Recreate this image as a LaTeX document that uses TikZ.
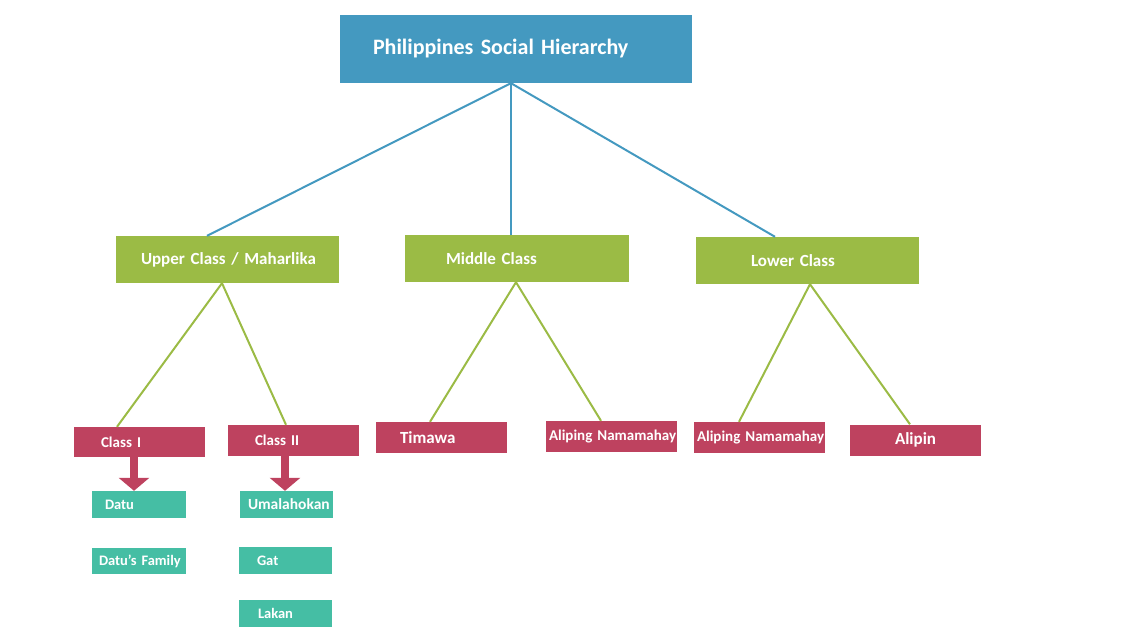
\documentclass[tikz,border=0pt]{standalone}
\usepackage{fontspec}
\setmainfont{Carlito}
\usetikzlibrary{positioning,arrows.meta}
\definecolor{headblue}{RGB}{68,153,192}
\definecolor{levelgreen}{RGB}{155,187,69}
\definecolor{rankred}{RGB}{190,66,95}
\definecolor{subteal}{RGB}{69,190,164}

\begin{document}
\begin{tikzpicture}[x=1pt,y=-1pt,
    level/.style={fill=levelgreen, minimum height=47pt, inner ysep=0pt, align=left, text=white, font=\bfseries\fontsize{17}{20}\selectfont},
    rank/.style={fill=rankred, minimum height=31pt, inner ysep=0pt, align=left, text=white, font=\bfseries\fontsize{15}{18}\selectfont},
    sub/.style={fill=subteal, minimum height=27pt, inner ysep=0pt, align=left, text=white, font=\bfseries\fontsize{14.5}{17}\selectfont},
    pad/.style 2 args={inner xsep=#1pt, text width=#2pt},
    blueline/.style={draw=headblue, line width=2pt},
    greenline/.style={draw=levelgreen, line width=2pt},
    downarrow/.style={draw=rankred, line width=8pt, -{Triangle[width=30pt,length=13pt]}}]
  \useasboundingbox (0,0) rectangle (1131,637);

  %top
  \node[fill=headblue, minimum height=68pt, inner ysep=0pt, align=left, text=white,
        font=\bfseries\fontsize{22}{26}\selectfont, pad={33}{286}] (head) at (516,49) {\mbox{Philippines Social Hierarchy}};

  %classes
  \node[level, pad={25}{173}] (upper) at (227.5,259.5) {\mbox{Upper Class / Maharlika}};
  \node[level, pad={41}{142}] (middle) at (517,258.5) {\mbox{Middle Class}};
  \node[level, pad={55}{113}] (lower) at (807.5,260.5) {\mbox{Lower Class}};

  %ranks
  \node[rank, pad={27}{77}, minimum height=30pt] (classI) at (139.5,442) {\mbox{Class I}};
  \node[rank, pad={27}{77}] (classII) at (293.5,440.5) {\mbox{Class II}};
  \node[rank, pad={24}{83}, font=\bfseries\fontsize{17}{20}\selectfont] (timawa) at (441.5,437.5) {Timawa};
  \node[rank, pad={3}{125}] (alipingA) at (611.5,436.5) {\mbox{Aliping Namamahay}};
  \node[rank, pad={3}{125}] (alipingB) at (759.5,437.5) {\mbox{Aliping Namamahay}};
  \node[rank, pad={45}{41}, font=\bfseries\fontsize{17}{20}\selectfont] (alipin) at (915.5,440) {Alipin};

  %sub ranks
  \node[sub, pad={13}{68}] (datu) at (139,504.5) {Datu};
  \node[sub, pad={7}{80}, minimum height=26pt] (family) at (139,561) {\mbox{Datu’s Family}};
  \node[sub, pad={8}{77}, font=\bfseries\fontsize{15.5}{18}\selectfont] (umala) at (286.5,504.5) {\mbox{Umalahokan}};
  \node[sub, pad={18}{57}] (gat) at (285.5,560.5) {Gat};
  \node[sub, pad={19}{55}] (lakan) at (285.5,613.5) {Lakan};

  \draw[blueline] ([xshift=-5pt]head.south) -- ([xshift=-20.5pt]upper.north);
  \draw[blueline] ([xshift=-5pt]head.south) -- ([xshift=-6pt]middle.north);
  \draw[blueline] ([xshift=-5pt]head.south) -- ([xshift=-32.5pt]lower.north);

  \draw[greenline] ([xshift=-5.5pt]upper.south) -- ([xshift=-22.5pt]classI.north);
  \draw[greenline] ([xshift=-5.5pt]upper.south) -- ([xshift=-7.5pt]classII.north);
  \draw[greenline] ([xshift=-1pt]middle.south) -- ([xshift=-11.5pt]timawa.north);
  \draw[greenline] ([xshift=-1pt]middle.south) -- ([xshift=-10.5pt]alipingA.north);
  \draw[greenline] ([xshift=2.5pt]lower.south) -- ([xshift=-20.5pt]alipingB.north);
  \draw[greenline] ([xshift=2.5pt]lower.south) -- ([xshift=-5.5pt]alipin.north);

  \draw[downarrow] ([xshift=-5.5pt]classI.south) -- ([xshift=-5.5pt]classI.south |- datu.north);
  \draw[downarrow] ([xshift=-8.5pt]classII.south) -- ([xshift=-8.5pt]classII.south |- umala.north);
\end{tikzpicture}
\end{document}
